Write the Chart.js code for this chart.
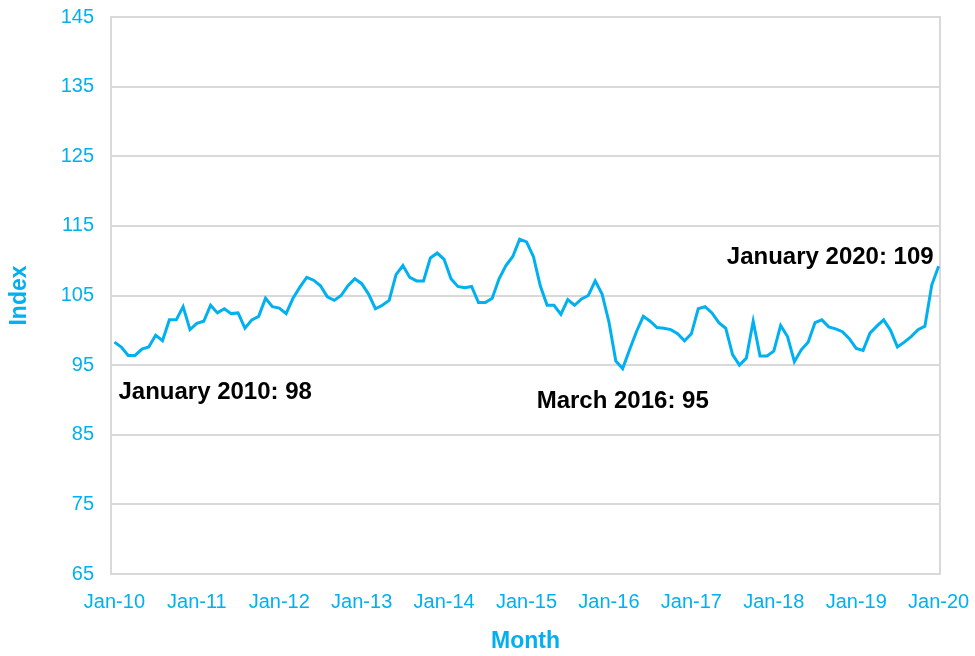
<!DOCTYPE html>
<html>
<head>
<meta charset="utf-8">
<script src="https://cdn.jsdelivr.net/npm/chart.js@4.4.1/dist/chart.umd.min.js"></script>
<style>
  html, body { margin: 0; padding: 0; background: #fff; }
  #wrap { width: 975px; height: 656px; }
</style>
</head>
<body>
<div id="wrap"><canvas id="myChart" width="975" height="656"></canvas></div>
<script>
// Monthly index, Jan 2010 .. Jan 2020 (121 months)
const indexValues = [
  98.3, 97.6, 96.4, 96.4, 97.3, 97.6, 99.3, 98.5, 101.5, 101.5, 103.4, 100.1,
  101.0, 101.3, 103.6, 102.5, 103.1, 102.4, 102.5, 100.3, 101.5, 102.0, 104.6, 103.4,
  103.2, 102.4, 104.6, 106.2, 107.6, 107.2, 106.4, 104.8, 104.3, 105.0, 106.4, 107.4,
  106.7, 105.2, 103.1, 103.6, 104.3, 108.0, 109.3, 107.6, 107.1, 107.1, 110.4, 111.1,
  110.2, 107.4, 106.3, 106.1, 106.3, 104.0, 104.0, 104.6, 107.4, 109.3, 110.6, 113.1,
  112.7, 110.6, 106.4, 103.6, 103.6, 102.3, 104.4, 103.6, 104.5, 105.0, 107.1, 105.2,
  101.2, 95.6, 94.5, 97.2, 99.8, 102.0, 101.3, 100.4, 100.3, 100.1, 99.5, 98.5,
  99.5, 103.1, 103.4, 102.5, 101.1, 100.3, 96.5, 95.0, 96.0, 101.3, 96.3, 96.3,
  97.0, 100.7, 99.1, 95.5, 97.2, 98.3, 101.1, 101.5, 100.5, 100.2, 99.8, 98.8,
  97.4, 97.1, 99.6, 100.6, 101.5, 100.0, 97.6, 98.3, 99.1, 100.1, 100.6, 106.5,
  109.2
];

// x tick labels, one per January
const tickLabels = ['Jan-10', 'Jan-11', 'Jan-12', 'Jan-13', 'Jan-14', 'Jan-15',
  'Jan-16', 'Jan-17', 'Jan-18', 'Jan-19', 'Jan-20'];

// callouts: month index + text
const calloutIndex = [0, 74, 120];
const calloutText = ['January 2010: 98', 'March 2016: 95', 'January 2020: 109'];

const BLUE = '#00B0F0';
const GRID = '#D9D9D9';
const FONT = '"Liberation Sans", Arial, sans-serif';

// grey frame round the plot area
const frame = {
  id: 'frame',
  beforeDatasetsDraw(chart) {
    const { ctx, chartArea: a } = chart;
    ctx.save();
    ctx.strokeStyle = GRID;
    ctx.lineWidth = 2;
    ctx.strokeRect(a.left, a.top, a.right - a.left, a.bottom - a.top);
    ctx.restore();
  }
};

// callout texts next to the key points
const callouts = {
  id: 'callouts',
  afterDatasetsDraw(chart) {
    const { ctx, scales } = chart;
    // placement relative to the point: [align, dx, dy]
    const place = [['left', 4, 57], ['center', 0, 39], ['right', -5, -2]];
    ctx.save();
    ctx.font = 'bold 24px ' + FONT;
    ctx.fillStyle = '#000';
    ctx.textBaseline = 'alphabetic';
    calloutIndex.forEach((idx, k) => {
      const px = scales.x.getPixelForValue(idx);
      const py = scales.y.getPixelForValue(indexValues[idx]);
      ctx.textAlign = place[k][0];
      ctx.fillText(calloutText[k], px + place[k][1], py + place[k][2]);
    });
    ctx.restore();
  }
};

function initChart() {
  const ctx = document.getElementById('myChart').getContext('2d');
  new Chart(ctx, {
    type: 'line',
    data: {
      datasets: [{
        label: 'Index',
        data: indexValues.map((v, i) => ({ x: i, y: v })),
        borderColor: BLUE,
        borderWidth: 3,
        pointRadius: 0,
        tension: 0,
        fill: false
      }]
    },
    options: {
      responsive: false,
      animation: false,
      layout: { padding: { left: 0, right: 35, top: 17, bottom: 0 } },
      plugins: {
        legend: { display: false },
        tooltip: { enabled: false }
      },
      scales: {
        x: {
          type: 'linear',
          min: -0.5,
          max: 120.2,
          afterBuildTicks: (scale) => {
            scale.ticks = tickLabels.map((t, i) => ({ value: i * 12 }));
          },
          afterFit: (scale) => {
            scale.height = 82;
            scale.paddingLeft = 0;
            scale.paddingRight = 0;
          },
          grid: { display: false },
          border: { display: true, color: GRID, width: 2 },
          ticks: {
            autoSkip: false,
            maxRotation: 0,
            padding: 8,
            color: BLUE,
            font: { family: FONT, size: 20 },
            callback: (v) => tickLabels[Math.round(v / 12)]
          },
          title: {
            display: true,
            text: 'Month',
            color: BLUE,
            font: { family: FONT, size: 23, weight: 'bold' },
            padding: { top: 0, bottom: 1 }
          }
        },
        y: {
          min: 65,
          max: 145,
          afterBuildTicks: (scale) => {
            const t = [];
            for (let v = 65; v <= 145; v += 10) t.push({ value: v });
            scale.ticks = t;
          },
          afterFit: (scale) => {
            scale.width = 111;
            scale.paddingTop = 0;
            scale.paddingBottom = 0;
          },
          grid: { color: GRID, lineWidth: 2, drawTicks: false },
          border: { display: true, color: GRID, width: 2 },
          ticks: {
            padding: 17,
            color: BLUE,
            font: { family: FONT, size: 20 }
          },
          title: {
            display: true,
            text: 'Index',
            color: BLUE,
            font: { family: FONT, size: 23, weight: 'bold' },
            padding: { top: 6, bottom: 0 }
          }
        }
      }
    },
    plugins: [frame, callouts]
  });
}

document.addEventListener('DOMContentLoaded', initChart);
</script>
</body>
</html>
